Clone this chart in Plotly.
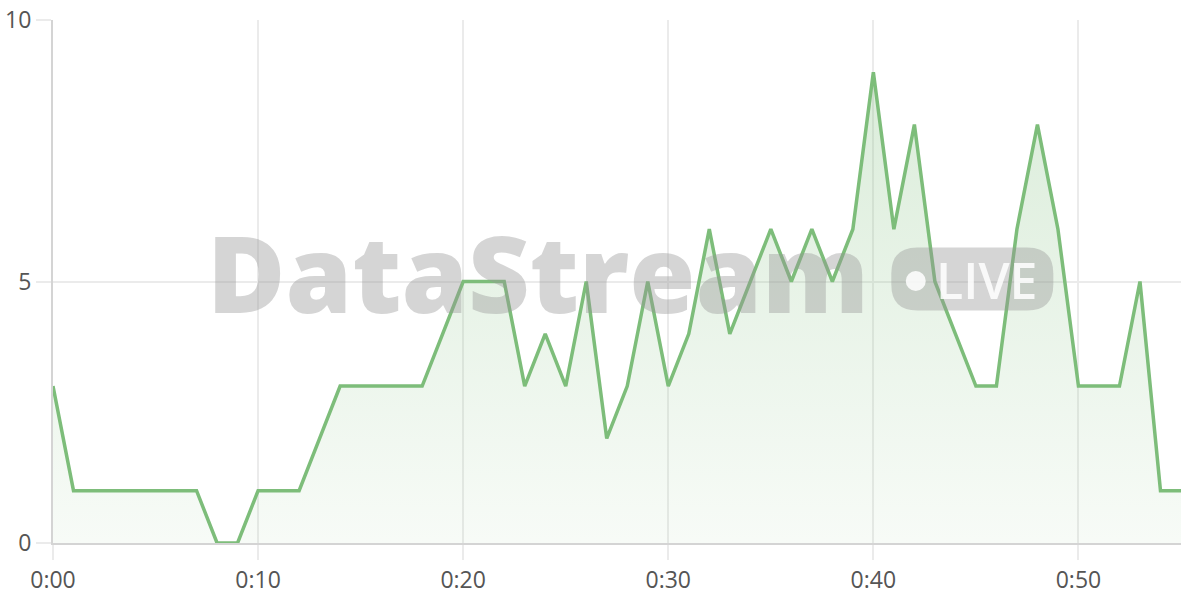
import plotly.graph_objects as go

minutes = list(range(0, 56))
values = [3, 1, 1, 1, 1, 1, 1, 1, 0, 0, 1, 1, 1, 2, 3, 3, 3, 3, 3, 4,
          5, 5, 5, 3, 4, 3, 5, 2, 3, 5, 3, 4, 6, 4, 5, 6, 5, 6, 5, 6,
          9, 6, 8, 5, 4, 3, 3, 6, 8, 6, 3, 3, 3, 5, 1, 1]
x_tick_vals = [0, 10, 20, 30, 40, 50]
x_tick_text = ["0:00", "0:10", "0:20", "0:30", "0:40", "0:50"]
y_tick_vals = [0, 5, 10]

fig = go.Figure()
fig.add_trace(go.Scatter(
    x=minutes, y=values, mode="lines",
    line=dict(color="#7dbd7a", width=3.5),
    fill="tozeroy",
    fillgradient=dict(type="vertical",
                      colorscale=[[0, "rgba(125,189,122,0.06)"], [1, "rgba(125,189,122,0.28)"]]),
    hoverinfo="skip",
))

wm = "rgba(150,150,150,0.40)"
# watermark text
fig.add_annotation(xref="paper", yref="paper", x=0.430, y=0.52, xanchor="center", yanchor="middle",
                   text="DataStream", showarrow=False,
                   font=dict(family="Open Sans", size=107, color=wm, weight=800))
# LIVE badge (rounded rect in pixels)
w, h, r = 162, 63, 26
hw, hh = w / 2, h / 2
path = (f"M {-hw + r},{-hh} L {hw - r},{-hh} Q {hw},{-hh} {hw},{-hh + r} L {hw},{hh - r} "
        f"Q {hw},{hh} {hw - r},{hh} L {-hw + r},{hh} Q {-hw},{hh} {-hw},{hh - r} "
        f"L {-hw},{-hh + r} Q {-hw},{-hh} {-hw + r},{-hh} Z")
fig.add_shape(type="path", xref="paper", yref="paper", xsizemode="pixel", ysizemode="pixel",
              xanchor=(971.5 - 53) / 1127, yanchor=(543 - 279) / 523, path=path,
              fillcolor=wm, line=dict(width=0), layer="above")
fig.add_shape(type="circle", xref="paper", yref="paper", xsizemode="pixel", ysizemode="pixel",
              xanchor=(915 - 53) / 1127, yanchor=(543 - 281) / 523, x0=-10, x1=10, y0=-10, y1=10,
              fillcolor="rgba(255,255,255,0.85)", line=dict(width=0), layer="above")
fig.add_annotation(xref="paper", yref="paper", x=(986 - 53) / 1127, y=(543 - 280) / 523,
                   xanchor="center", yanchor="middle",
                   text="LIVE", showarrow=False,
                   font=dict(family="Open Sans", size=50, color="rgba(255,255,255,0.85)", weight=600))

fig.update_layout(
    width=1200, height=600,
    margin=dict(l=53, r=19, t=20, b=57, autoexpand=False),
    paper_bgcolor="white", plot_bgcolor="white",
    showlegend=False,
    font=dict(family="Open Sans", size=23, color="#555"),
)
fig.update_xaxes(range=[0, 55], tickvals=x_tick_vals, ticktext=x_tick_text,
                 tickfont=dict(size=23, color="#555"), automargin=False,
                 showgrid=True, gridcolor="#ebebeb", gridwidth=1.5,
                 ticks="outside", ticklen=15, tickcolor="#ebebeb", tickwidth=1.5,
                 showline=True, linecolor="#d4d4d4", linewidth=2, zeroline=False)
fig.update_yaxes(range=[0, 10], tickvals=y_tick_vals,
                 tickfont=dict(size=23, color="#555"), automargin=False,
                 showgrid=True, gridcolor="#ebebeb", gridwidth=1.5,
                 ticks="outside", ticklen=15, tickcolor="#ebebeb", tickwidth=1.5,
                 showline=True, linecolor="#d4d4d4", linewidth=2, zeroline=False)

fig.write_html("out.html", config={"displayModeBar": False},
               post_script="document.body.style.margin='0';")
